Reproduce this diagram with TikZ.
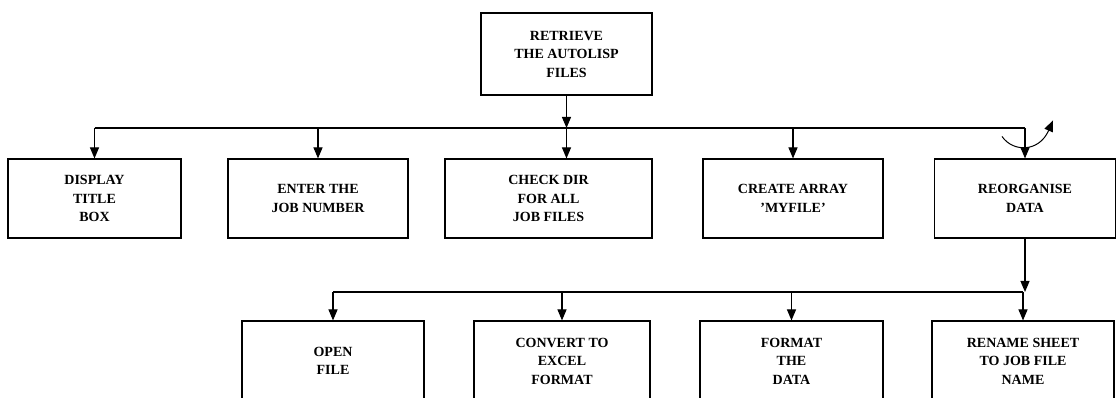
\documentclass[tikz,border=0pt]{standalone}
\usepackage{fontspec}
\setmainfont{Liberation Serif}
\usetikzlibrary{arrows.meta}
\tikzset{
    blk/.style={draw, line width=1.1pt, align=center, inner sep=0pt,
        font=\bfseries\fontsize{14}{18.5}\selectfont},
    arr/.style={-{Triangle[length=11pt,width=9pt]}, line width=1.1pt},
    wire/.style={line width=1.1pt},
}
\begin{document}
\begin{tikzpicture}[x=1pt,y=1pt]
    \clip (0,0) rectangle (1118,398);
    \node[blk, minimum width=171pt, minimum height=82pt] (retrieve) at (566.5,344)
        {RETRIEVE\\THE AUTOLISP\\FILES};
    \foreach \n/\x/\w/\t in {disp/94.5/173/{DISPLAY\\TITLE\\BOX},
            enter/318/180/{ENTER THE\\JOB NUMBER},
            check/548.5/207/{CHECK DIR\\FOR ALL\\JOB FILES},
            create/793/180/{CREATE ARRAY\\'MYFILE'},
            reorg/1025/181/{REORGANISE\\DATA}} {
        \node[blk, minimum width=\w pt, minimum height=79pt] (\n) at (\x,199.5) {\t};
    }
    \foreach \n/\x/\w/\t in {open/333/182/{OPEN\\FILE},
            convert/562/176/{CONVERT TO\\EXCEL\\FORMAT},
            format/791.5/183/{FORMAT\\THE\\DATA},
            rename/1023/182/{RENAME SHEET\\TO JOB FILE\\NAME}} {
        \node[blk, minimum width=\w pt, minimum height=80pt] (\n) at (\x,37) {\t};
    }
    \coordinate (bus1) at (0,270);
    \coordinate (bus2) at (0,106);
    \draw[arr] (retrieve.south) -- (retrieve.south |- bus1);
    \draw[arr] (retrieve.south |- bus1) -- (retrieve.south |- check.north);
    \draw[wire] (disp.north |- bus1) -- (reorg.north |- bus1);
    \foreach \n in {disp, enter, create, reorg} {
        \draw[arr] (\n.north |- bus1) -- (\n.north);
    }
    \draw[arr, line width=1pt] ([shift={(-23,22)}]reorg.north)
        .. controls ([shift={(-12,6)}]reorg.north) and ([shift={(14,6)}]reorg.north)
        .. ([shift={(28,38)}]reorg.north);
    \draw[arr] (reorg.south) -- (reorg.south |- bus2);
    \draw[wire] (open.north |- bus2) -- (rename.north |- bus2);
    \foreach \n in {open, convert, format, rename} {
        \draw[arr] (\n.north |- bus2) -- (\n.north);
    }
\end{tikzpicture}
\end{document}
